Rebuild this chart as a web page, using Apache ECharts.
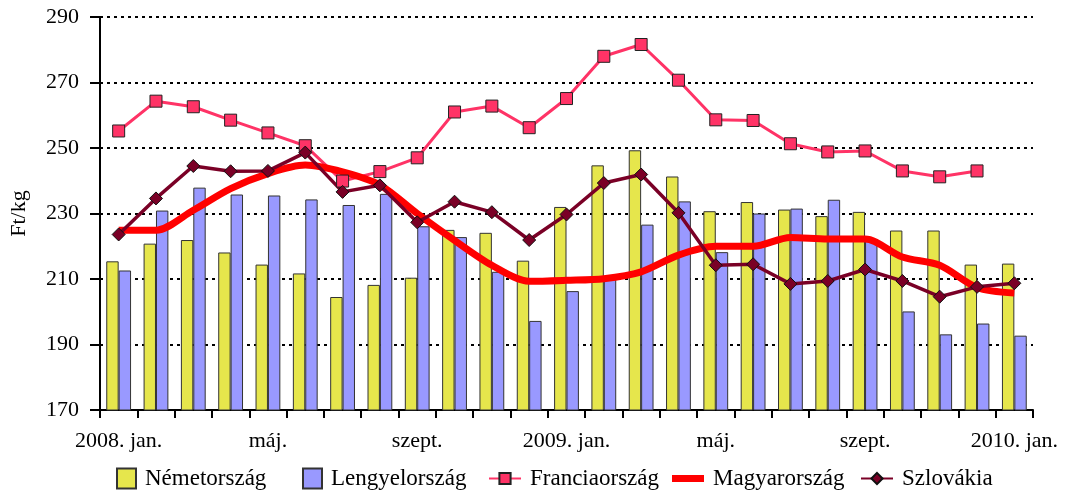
<!DOCTYPE html>
<html>
<head>
<meta charset="utf-8">
<script src="https://cdn.jsdelivr.net/npm/echarts@6/dist/echarts.min.js"></script>
<style>
html,body{margin:0;padding:0;background:#fff;}
#chart{width:1066px;height:495px;}
</style>
</head>
<body>
<div id="chart"></div>
<script>
const categories = ['2008. jan.','febr.','márc.','ápr.','máj.','jún.','júl.','aug.','szept.','okt.','nov.','dec.',
  '2009. jan.','febr.','márc.','ápr.','máj.','jún.','júl.','aug.','szept.','okt.','nov.','dec.','2010. jan.'];
const nemetorszag = [215.4,220.8,221.9,218.1,214.4,211.7,204.5,208.2,210.4,225.0,224.1,215.6,232.0,244.7,249.3,241.3,230.7,233.5,231.2,229.2,230.5,224.8,224.8,214.4,214.7];
const lengyelorszag = [212.6,230.9,237.9,235.8,235.5,234.3,232.6,236.0,226.1,222.8,212.2,197.2,206.3,210.5,226.6,233.7,218.2,230.0,231.5,234.2,222.0,200.1,193.1,196.4,192.7];
const franciaorszag = [255.2,264.3,262.6,258.5,254.6,250.7,239.9,242.8,247.0,261.0,262.8,256.2,265.1,278.0,281.6,270.7,258.6,258.4,251.3,248.8,249.1,243.0,241.2,243.0,null];
const magyarorszag = [224.9,224.9,231.0,237.6,242.2,244.8,242.7,238.7,230.0,221.8,214.2,209.3,209.6,210.1,212.2,217.3,220.0,220.0,222.7,222.2,222.2,216.7,214.2,207.4,205.7];
const szlovakia = [223.6,234.6,244.5,242.9,243.0,248.6,236.6,238.6,227.3,233.6,230.4,221.9,229.7,239.3,241.9,230.2,214.2,214.5,208.5,209.4,212.9,209.4,204.6,207.6,208.7];
const yMin = 170, yMax = 290, yStep = 20;

const font = 'Liberation Serif';
const legendText = {fontFamily:font,fontSize:23,color:'#000',padding:[0,0,0,4]};
function leg(name, left, w, h, icon) {
  const item = icon ? {name:name, icon:icon} : {name:name};
  return {data:[item], left:left, top:462, itemWidth:w, itemHeight:h, textStyle:legendText};
}
const chart = echarts.init(document.getElementById('chart'), null, {renderer:'canvas'});
chart.setOption({
  animation:false,
  backgroundColor:'#fff',
  textStyle:{fontFamily:font,color:'#000'},
  grid:{left:98,right:33,top:17,bottom:85,containLabel:false},
  legend:[
    leg('Németország',111,19,20,'rect'),
    leg('Lengyelország',297,19,20,'rect'),
    leg('Franciaország',483,32,14),
    leg('Magyarország',667,32,14,'path://M0,0 L32,0 L32,7 L0,7 Z'),
    leg('Szlovákia',855,32,14)
  ],
  xAxis:{
    type:'category',data:categories,boundaryGap:true,
    axisLine:{lineStyle:{color:'#000',width:2}},
    axisTick:{show:true,interval:0,length:8,lineStyle:{color:'#000',width:2}},
    axisLabel:{interval:3,margin:20,fontFamily:font,fontSize:22,color:'#000'},
    splitLine:{show:false}
  },
  yAxis:{
    type:'value',min:yMin,max:yMax,interval:yStep,
    name:'Ft/kg',nameLocation:'middle',nameGap:70,nameRotate:90,
    nameTextStyle:{fontFamily:font,fontSize:22,color:'#000'},
    axisLine:{show:true,lineStyle:{color:'#000',width:2}},
    axisTick:{show:true,length:10,lineStyle:{color:'#000',width:2}},
    axisLabel:{margin:21,fontFamily:font,fontSize:22,color:'#000'},
    splitLine:{show:true,lineStyle:{color:'#000',width:2,type:[3,4]}}
  },
  series:[
    {name:'Németország',type:'bar',data:nemetorszag,barWidth:12.4,barGap:'0%',
     itemStyle:{color:'#E6E64C',borderColor:'#333',borderWidth:1}},
    {name:'Lengyelország',type:'bar',data:lengyelorszag,barWidth:12.4,barGap:'0%',
     itemStyle:{color:'#9999FF',borderColor:'#333',borderWidth:1}},
    {name:'Franciaország',type:'line',data:franciaorszag,symbol:'rect',symbolSize:12,
     lineStyle:{color:'#FF3366',width:3},
     itemStyle:{color:'#FF3366',borderColor:'#222',borderWidth:1}},
    {name:'Magyarország',type:'line',data:magyarorszag,symbol:'none',smooth:0.3,
     lineStyle:{color:'#FF0000',width:7},itemStyle:{color:'#FF0000'}},
    {name:'Szlovákia',type:'line',data:szlovakia,symbol:'diamond',symbolSize:13,
     lineStyle:{color:'#7A0026',width:3.5},
     itemStyle:{color:'#7A0026',borderColor:'#111',borderWidth:1}}
  ]
});
</script>
</body>
</html>
